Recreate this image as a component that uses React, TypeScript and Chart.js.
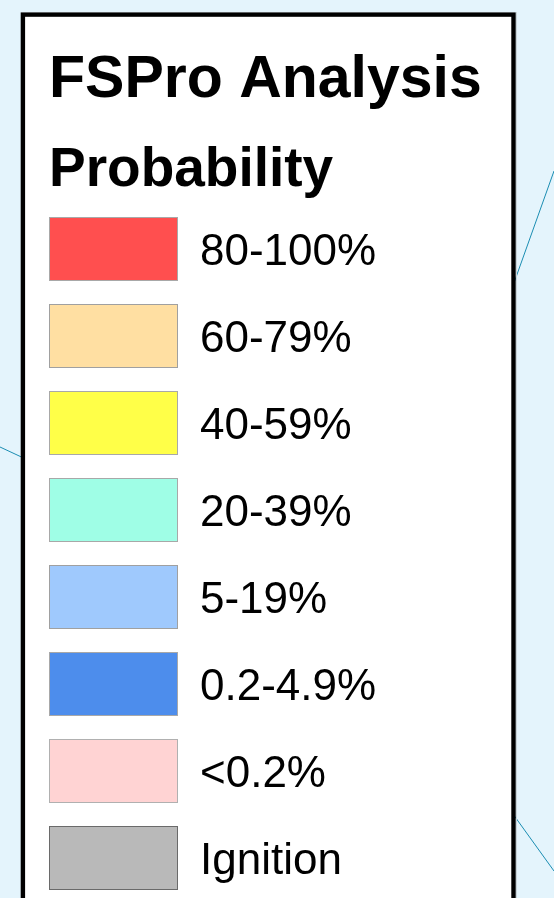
import { useEffect, useRef } from "react";
import { Chart, registerables } from "chart.js";

Chart.register(...registerables);

// ---- data ----
const titleText = "FSPro Analysis";
const subtitleText = "Probability";
const categories = ["80-100%", "60-79%", "40-59%", "20-39%", "5-19%", "0.2-4.9%", "<0.2%", "Ignition"];
const swatchValues = [1, 1, 1, 1, 1, 1, 1, 1];
const swatchColors = ["#ff4f4f", "#ffdfa2", "#ffff48", "#9ffee6", "#9fc9fd", "#4d8dec", "#ffd3d3", "#b9b9b9"];
const swatchBorders = ["#a8a8a8", "#a0a0a0", "#a8a8a8", "#a8a8a8", "#a0a0a0", "#a8a8a8", "#b0b0b0", "#6a6a6a"];

const W = 554;
const H = 960;
const FONT = "'Liberation Sans', Arial, Helvetica, sans-serif";

const backdrop = {
  id: "backdrop",
  beforeDraw(chart: any) {
    const ctx = chart.ctx as CanvasRenderingContext2D;
    ctx.save();
    ctx.fillStyle = "#e4f4fc";
    ctx.fillRect(0, 0, chart.width, chart.height);
    // map boundary lines
    ctx.strokeStyle = "#1b8db2";
    ctx.lineWidth = 1;
    const segs = [
      [0, 447, 30, 461],
      [554, 171, 500, 322],
      [500, 796, 554, 871],
    ];
    for (const s of segs) {
      ctx.beginPath();
      ctx.moveTo(s[0], s[1]);
      ctx.lineTo(s[2], s[3]);
      ctx.stroke();
    }
    // shadow line right of box
    ctx.strokeStyle = "#c9d3d8";
    ctx.beginPath();
    ctx.moveTo(516.5, 12);
    ctx.lineTo(516.5, chart.height);
    ctx.stroke();
    // legend box
    ctx.fillStyle = "#ffffff";
    ctx.fillRect(21, 12.5, 494, chart.height);
    ctx.strokeStyle = "#000000";
    ctx.lineWidth = 4.4;
    ctx.strokeRect(22.9, 14.6, 490.6, chart.height + 20);
    ctx.restore();
  },
};

export default function App() {
  const ref = useRef<HTMLCanvasElement | null>(null);

  useEffect(() => {
    if (!ref.current) return;
    const chart = new Chart(ref.current, {
      type: "bar",
      data: {
        labels: categories,
        datasets: [
          {
            data: swatchValues,
            backgroundColor: swatchColors,
            borderColor: swatchBorders,
            borderWidth: 1,
            borderSkipped: false,
            categoryPercentage: 1,
            barPercentage: 0.7356,
          },
        ],
      },
      options: {
        animation: false,
        responsive: false,
        indexAxis: "y",
        layout: { padding: { top: 0, left: 49, right: 0, bottom: H - 901.5 } },
        scales: {
          x: { type: "linear", min: 0, max: 1, display: false },
          y: {
            type: "category",
            position: "right",
            grid: { display: false, drawTicks: false },
            border: { display: false },
            ticks: {
              color: "#000000",
              padding: 22,
              labelOffset: 4,
              font: { family: FONT, size: 44 },
            },
            afterFit: (scale: any) => {
              scale.width = W - 178;
            },
          },
        },
        plugins: {
          legend: { display: false },
          tooltip: { enabled: false },
          title: {
            display: true,
            text: titleText,
            align: "start",
            color: "#000000",
            font: { family: FONT, size: 59, weight: "bold", lineHeight: 1 },
            padding: { top: 50.8, bottom: 0 },
          },
          subtitle: {
            display: true,
            text: subtitleText,
            align: "start",
            color: "#000000",
            font: { family: FONT, size: 55, weight: "bold", lineHeight: 1 },
            padding: { top: 33.6, bottom: 7.1 },
          },
        },
      },
      plugins: [backdrop],
    });
    return () => chart.destroy();
  }, []);

  return (
    <div
      style={{
        position: "fixed",
        left: 0,
        top: 0,
        width: W,
        height: 898,
        overflow: "hidden",
        background: "#e4f4fc",
      }}
    >
      <canvas ref={ref} width={W} height={H} style={{ display: "block", width: W, height: H }} />
    </div>
  );
}
